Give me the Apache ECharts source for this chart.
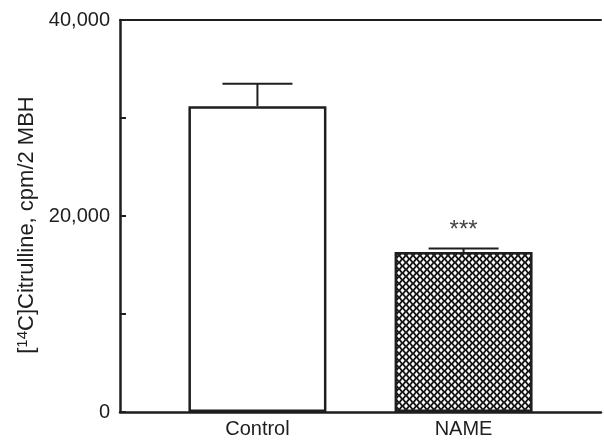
<!DOCTYPE html>
<html>
<head>
<meta charset="utf-8">
<script src="https://cdn.jsdelivr.net/npm/echarts@6/dist/echarts.min.js"></script>
<style>
    html, body { margin: 0; padding: 0; background: #fff; }
    #main { width: 604px; height: 440px; }
</style>
</head>
<body>
<div id="main"></div>
<script>
// data
var groups = ['Control', 'NAME'];
var means = [31200, 16330];
var sems = [2300, 350];
var marks = ['', '***'];
var yTicks = [0, 20000, 40000];

// the groups sit on slots 2 and 5 of an 8-slot axis
var slots = [2, 5];
var slotCount = 8;

var font = '"Liberation Sans", Arial, Helvetica, sans-serif';
var ink = '#1e1e1e';

var axisData = [];
for (var i = 0; i < slotCount; i++) axisData.push('');
slots.forEach(function (s, k) { axisData[s] = groups[k]; });

// cross-hatch fill: black lattice with white diamonds
var hatch = (function () {
    var c = document.createElement('canvas');
    c.width = 7; c.height = 7;
    var ctx = c.getContext('2d');
    ctx.fillStyle = '#141414';
    ctx.fillRect(0, 0, 7, 7);
    ctx.fillStyle = '#ffffff';
    [[3.5, 3.5], [0, 0], [7, 0], [0, 7], [7, 7]].forEach(function (p) {
        ctx.beginPath();
        ctx.moveTo(p[0], p[1] - 2.4);
        ctx.lineTo(p[0] + 2.0, p[1]);
        ctx.lineTo(p[0], p[1] + 2.4);
        ctx.lineTo(p[0] - 2.0, p[1]);
        ctx.closePath();
        ctx.fill();
    });
    return c;
})();

var barData = groups.map(function (g, k) {
    return {
        value: [slots[k], means[k]],
        itemStyle: k === 0 ? {color: '#ffffff'} : {color: {image: hatch, repeat: 'repeat'}}
    };
});

var errData = groups.map(function (g, k) {
    return [slots[k], means[k], means[k] + sems[k], k];
});

var chart = echarts.init(document.getElementById('main'));
chart.setOption({
    backgroundColor: '#ffffff',
    animation: false,
    grid: {left: 120, right: 0, top: 20, bottom: 28},
    xAxis: [{
        type: 'category',
        data: axisData,
        boundaryGap: false,
        axisLine: {lineStyle: {color: ink, width: 2.5}},
        axisTick: {show: false},
        axisLabel: {
            interval: 0, margin: 7,
            fontFamily: font, fontSize: 20, color: ink
        },
        splitLine: {show: false}
    }, {
        type: 'category',
        position: 'top',
        data: axisData,
        boundaryGap: false,
        axisLine: {lineStyle: {color: ink, width: 2}},
        axisTick: {show: false},
        axisLabel: {show: false}
    }],
    yAxis: {
        type: 'value',
        min: yTicks[0],
        max: yTicks[yTicks.length - 1],
        interval: yTicks[1] - yTicks[0],
        name: '[{sup|14}C]Citrulline, cpm/2 MBH',
        nameLocation: 'middle',
        nameGap: 72,
        nameTextStyle: {
            fontFamily: font, fontSize: 22, color: ink,
            padding: [0, 18, 0, 0],
            rich: {
                sup: {fontFamily: font, fontSize: 15, color: ink, verticalAlign: 'top', padding: [0, 0, 8, 0]}
            }
        },
        axisLine: {show: true, lineStyle: {color: ink, width: 2.5}},
        axisTick: {show: true, inside: true, length: 6, lineStyle: {color: ink, width: 2}},
        minorTick: {show: true, splitNumber: 2, length: 6, lineStyle: {color: ink, width: 2}},
        splitLine: {show: false},
        axisLabel: {
            margin: 10,
            padding: [6, 0, 0, 0],
            fontFamily: font, fontSize: 20, color: ink,
            formatter: function (v) { return v.toLocaleString('en-US'); }
        }
    },
    series: [{
        type: 'bar',
        data: barData,
        barWidth: 138,
        itemStyle: {borderColor: ink, borderWidth: 2.5}
    }, {
        type: 'custom',
        data: errData,
        z: 3,
        renderItem: function (params, api) {
            var base = api.coord([api.value(0), api.value(1)]);
            var top = api.coord([api.value(0), api.value(2)]);
            var k = api.value(3);
            var children = [{
                type: 'line',
                shape: {x1: top[0], y1: base[1], x2: top[0], y2: top[1]},
                style: {stroke: ink, lineWidth: 2}
            }, {
                type: 'line',
                shape: {x1: top[0] - 35, y1: top[1], x2: top[0] + 35, y2: top[1]},
                style: {stroke: ink, lineWidth: 2}
            }];
            if (marks[k]) {
                children.push({
                    type: 'text',
                    style: {
                        x: top[0], y: top[1] - 18,
                        text: marks[k],
                        fill: '#444',
                        font: '24px ' + font,
                        align: 'center', verticalAlign: 'middle'
                    }
                });
            }
            return {type: 'group', children: children};
        }
    }]
});
</script>
</body>
</html>
